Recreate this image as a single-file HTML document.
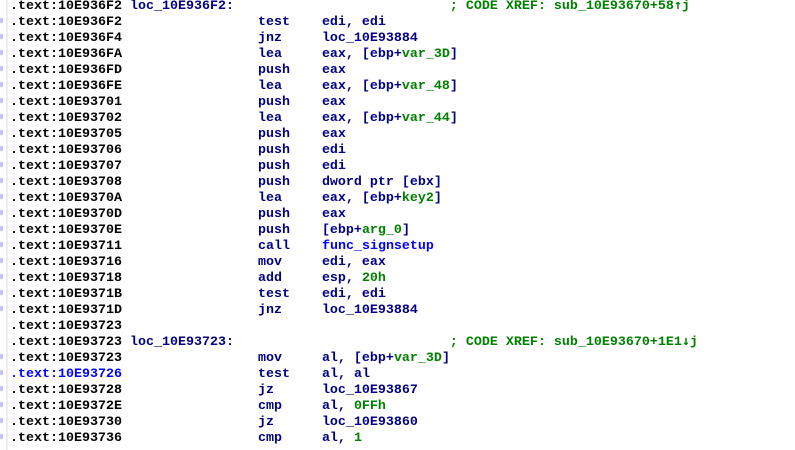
<!DOCTYPE html>
<html>
<head>
<meta charset="utf-8">
<style>
html,body{margin:0;padding:0;background:#fff;width:795px;height:450px;overflow:hidden}
#bar{position:absolute;left:6px;top:0;width:2px;height:450px;background:#eeeeee}
#dots{position:absolute;left:0;top:0;width:4px;height:450px}
#dots i{position:absolute;left:0;width:3px;height:5px;background:#c4c4f4}
pre{position:absolute;left:10px;top:-1px;margin:0;font:bold 13.333px/16px "Liberation Mono",monospace;color:#000;white-space:pre}
b{font-weight:bold;color:#000080}
u{text-decoration:none;color:#008000}
s{text-decoration:none;color:#0000ff}
em{font-style:normal;font-family:"DejaVu Sans Mono",monospace;font-weight:bold;line-height:0}
</style>
</head>
<body>
<div id="bar"></div>
<div id="dots">
<i style="top:18px"></i><i style="top:34px"></i><i style="top:50px"></i><i style="top:66px"></i><i style="top:82px"></i><i style="top:98px"></i><i style="top:114px"></i><i style="top:130px"></i><i style="top:146px"></i><i style="top:162px"></i><i style="top:178px"></i><i style="top:194px"></i><i style="top:210px"></i><i style="top:226px"></i><i style="top:242px"></i><i style="top:258px"></i><i style="top:274px"></i><i style="top:290px"></i><i style="top:306px"></i><i style="top:354px"></i><i style="top:370px"></i><i style="top:386px"></i><i style="top:402px"></i><i style="top:418px"></i><i style="top:434px"></i>
</div>
<pre>.text:10E936F2 <b>loc_10E936F2:</b>                           <u>; CODE XREF: sub_10E93670+58<em>↑</em>j</u>
.text:10E936F2                 <b>test    edi, edi</b>
.text:10E936F4                 <b>jnz     loc_10E93884</b>
.text:10E936FA                 <b>lea     eax, [ebp+</b><u>var_3D</u><b>]</b>
.text:10E936FD                 <b>push    eax</b>
.text:10E936FE                 <b>lea     eax, [ebp+</b><u>var_48</u><b>]</b>
.text:10E93701                 <b>push    eax</b>
.text:10E93702                 <b>lea     eax, [ebp+</b><u>var_44</u><b>]</b>
.text:10E93705                 <b>push    eax</b>
.text:10E93706                 <b>push    edi</b>
.text:10E93707                 <b>push    edi</b>
.text:10E93708                 <b>push    dword ptr [ebx]</b>
.text:10E9370A                 <b>lea     eax, [ebp+</b><u>key2</u><b>]</b>
.text:10E9370D                 <b>push    eax</b>
.text:10E9370E                 <b>push    [ebp+</b><u>arg_0</u><b>]</b>
.text:10E93711                 <b>call    </b><s>func_signsetup</s>
.text:10E93716                 <b>mov     edi, eax</b>
.text:10E93718                 <b>add     esp, </b><u>20h</u>
.text:10E9371B                 <b>test    edi, edi</b>
.text:10E9371D                 <b>jnz     loc_10E93884</b>
.text:10E93723
.text:10E93723 <b>loc_10E93723:</b>                           <u>; CODE XREF: sub_10E93670+1E1<em>↓</em>j</u>
.text:10E93723                 <b>mov     al, [ebp+</b><u>var_3D</u><b>]</b>
<s>.text:10E93726</s>                 <b>test    al, al</b>
.text:10E93728                 <b>jz      loc_10E93867</b>
.text:10E9372E                 <b>cmp     al, </b><u>0FFh</u>
.text:10E93730                 <b>jz      loc_10E93860</b>
.text:10E93736                 <b>cmp     al, </b><u>1</u></pre>
</body>
</html>
